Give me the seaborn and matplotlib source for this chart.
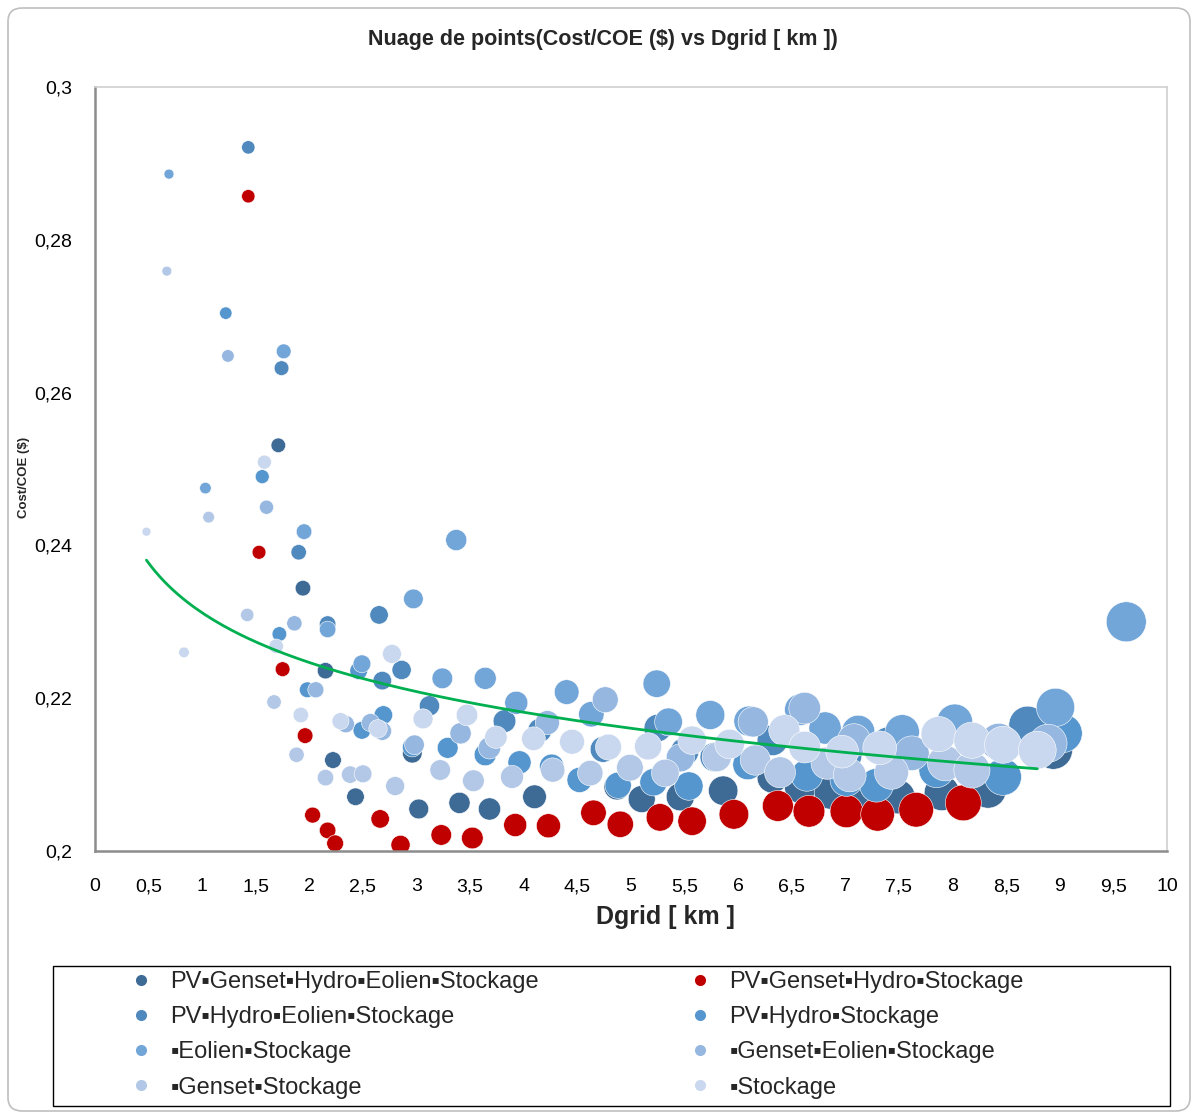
"""
Nuage de points Cost/COE ($) vs Dgrid [km] : bulles par configuration + tendance log.
"""

import matplotlib
matplotlib.use("Agg")
import numpy as np
import pandas as pd
import matplotlib.pyplot as plt
from matplotlib import font_manager
from matplotlib.colors import PowerNorm
from matplotlib.lines import Line2D
from matplotlib.patches import FancyBboxPatch, Rectangle
from matplotlib.ticker import FuncFormatter, MultipleLocator
import seaborn as sns

# ---- données ----
names = [
    "PV▪Genset▪Hydro▪Eolien▪Stockage",
    "PV▪Genset▪Hydro▪Stockage",
    "PV▪Hydro▪Eolien▪Stockage",
    "PV▪Hydro▪Stockage",
    "▪Eolien▪Stockage",
    "▪Genset▪Eolien▪Stockage",
    "▪Genset▪Stockage",
    "▪Stockage",
]
colors = ["#3E6A96", "#C00000", "#4F89BD", "#5596CE",
          "#72A5D8", "#96B7E0", "#B2C8E6", "#C9D8EE"]

s1_x = [1.71, 1.94, 2.15, 2.22, 2.43, 2.96, 3.02, 3.40, 3.68, 4.10, 4.87, 5.10,
        5.46, 5.86, 6.32, 6.58, 6.86, 7.20, 7.49, 7.90, 8.33, 8.94]
s1_y = [0.2531, 0.2344, 0.2236, 0.2119, 0.2071, 0.2128, 0.2055, 0.2063, 0.2055, 0.2071, 0.2084, 0.2068,
        0.2071, 0.2079, 0.2096, 0.2083, 0.2076, 0.2073, 0.2071, 0.2076, 0.2080, 0.2132]

s2_x = [1.43, 1.53, 1.75, 1.96, 2.03, 2.17, 2.24, 2.66, 2.85, 3.23, 3.52, 3.92,
        4.23, 4.65, 4.90, 5.27, 5.57, 5.96, 6.37, 6.66, 7.01, 7.30, 7.66, 8.10]
s2_y = [0.2857, 0.2391, 0.2238, 0.2151, 0.2047, 0.2027, 0.2010, 0.2042, 0.2008, 0.2021, 0.2017, 0.2034,
        0.2033, 0.2050, 0.2035, 0.2044, 0.2039, 0.2048, 0.2059, 0.2052, 0.2052, 0.2048, 0.2054, 0.2063]

s3_x = [1.43, 1.74, 1.90, 2.17, 2.65, 2.68, 2.86, 3.12, 3.82, 4.15, 4.74, 5.25,
        5.50, 5.78, 6.32, 7.00, 7.40, 8.70]
s3_y = [0.2921, 0.2632, 0.2391, 0.2297, 0.2309, 0.2223, 0.2237, 0.2190, 0.2170, 0.2158, 0.2133, 0.2161,
        0.2130, 0.2123, 0.2145, 0.2125, 0.2140, 0.2165]

s4_x = [1.22, 1.56, 1.72, 1.98, 2.46, 2.49, 2.69, 2.96, 3.29, 3.64, 3.96, 4.26,
        4.52, 4.88, 5.21, 5.54, 6.09, 6.64, 7.01, 7.29, 7.85, 8.47, 9.03]
s4_y = [0.2704, 0.2490, 0.2284, 0.2211, 0.2236, 0.2158, 0.2178, 0.2136, 0.2135, 0.2126, 0.2116, 0.2111,
        0.2093, 0.2086, 0.2090, 0.2085, 0.2113, 0.2099, 0.2093, 0.2086, 0.2106, 0.2097, 0.2154]

s5_x = [0.69, 1.03, 1.76, 1.95, 2.17, 2.49, 2.97, 3.24, 3.37, 3.64, 3.93, 4.40,
        4.63, 5.24, 5.35, 5.74, 6.10, 6.58, 6.81, 7.12, 7.53, 8.02, 8.96, 9.62]
s5_y = [0.2886, 0.2475, 0.2654, 0.2418, 0.2290, 0.2245, 0.2330, 0.2226, 0.2407, 0.2226, 0.2194, 0.2208,
        0.2179, 0.2219, 0.2169, 0.2178, 0.2170, 0.2185, 0.2161, 0.2156, 0.2156, 0.2169, 0.2188, 0.2300]

s6_x = [1.24, 1.60, 1.86, 2.06, 2.34, 2.57, 2.68, 2.98, 3.41, 3.68, 4.22, 4.76,
        5.46, 6.14, 6.62, 7.08, 7.62, 8.43, 8.89]
s6_y = [0.2648, 0.2450, 0.2298, 0.2211, 0.2166, 0.2168, 0.2157, 0.2139, 0.2154, 0.2135, 0.2168, 0.2198,
        0.2122, 0.2169, 0.2187, 0.2145, 0.2128, 0.2143, 0.2141]

s7_x = [0.67, 1.06, 1.42, 1.67, 1.88, 2.15, 2.38, 2.50, 2.80, 3.22, 3.53, 3.89,
        4.27, 4.62, 4.99, 5.32, 5.80, 6.16, 6.39, 6.83, 7.04, 7.43, 7.93, 8.18]
s7_y = [0.2759, 0.2437, 0.2309, 0.2195, 0.2126, 0.2096, 0.2100, 0.2101, 0.2085, 0.2106, 0.2092, 0.2097,
        0.2106, 0.2102, 0.2109, 0.2102, 0.2123, 0.2119, 0.2103, 0.2115, 0.2099, 0.2103, 0.2115, 0.2106]

s8_x = [0.48, 0.83, 1.58, 1.69, 1.92, 2.29, 2.64, 2.77, 3.06, 3.47, 3.74, 4.09,
        4.45, 4.79, 5.16, 5.57, 5.92, 6.43, 6.62, 6.97, 7.32, 7.87, 8.18, 8.47, 8.79]
s8_y = [0.2418, 0.2260, 0.2509, 0.2268, 0.2178, 0.2170, 0.2160, 0.2258, 0.2173, 0.2178, 0.2149, 0.2147,
        0.2143, 0.2136, 0.2137, 0.2145, 0.2140, 0.2158, 0.2136, 0.2130, 0.2135, 0.2153, 0.2145, 0.2139, 0.2132]

series_x = [s1_x, s2_x, s3_x, s4_x, s5_x, s6_x, s7_x, s8_x]
series_y = [s1_y, s2_y, s3_y, s4_y, s5_y, s6_y, s7_y, s8_y]

# ---- style ----
sns.set_style("white")
installed = {f.name for f in font_manager.fontManager.ttflist}
narrow = "Liberation Sans Narrow" if "Liberation Sans Narrow" in installed else "Liberation Sans"
plt.rcParams["font.family"] = ["Liberation Sans", "DejaVu Sans"]

W, H = 1196, 1117
fig = plt.figure(figsize=(W / 100, H / 100), dpi=100)
ax = fig.add_axes([95 / W, 1 - 851 / H, (1167 - 95) / W, (851 - 87) / H])

frames = []
for name, xs, ys in zip(names, series_x, series_y):
    frames.append(pd.DataFrame({"Dgrid": xs, "Cost": ys, "serie": name}))
df = pd.concat(frames, ignore_index=True)  # ordre = ordre de dessin (Excel)

palette = dict(zip(names, colors))
sns.scatterplot(
    data=df, x="Dgrid", y="Cost", hue="serie", palette=palette,
    size="Dgrid", sizes=(25, 830), size_norm=PowerNorm(1.3, vmin=0, vmax=max(s5_x)),
    edgecolor="white", linewidth=0.4, alpha=1, legend=False, ax=ax, zorder=2,
)

# courbe de tendance logarithmique (sur la dernière série)
b, a = np.polyfit(np.log(s8_x), s8_y, 1)
xt = np.linspace(min(s8_x), max(s8_x), 200)
sns.lineplot(x=xt, y=a + b * np.log(xt), color="#00B050", lw=2, ax=ax, zorder=3)

# ---- axes ----
ax.set_xlim(0, 10)
ax.set_ylim(0.2, 0.3)
ax.xaxis.set_major_locator(MultipleLocator(0.5))
ax.yaxis.set_major_locator(MultipleLocator(0.02))
comma = FuncFormatter(lambda v, p: f"{v:g}".replace(".", ","))
ax.xaxis.set_major_formatter(comma)
ax.yaxis.set_major_formatter(comma)
ax.tick_params(axis="both", direction="inout", length=13, width=1.3,
               color="#8C8C8C", labelsize=14, labelcolor="black")
ax.tick_params(axis="x", pad=13)
ax.tick_params(axis="y", pad=10)
for side in ["left", "bottom"]:
    ax.spines[side].set_color("#8C8C8C")
    ax.spines[side].set_linewidth(1.8)
for side in ["top", "right"]:
    ax.spines[side].set_color("#D0D0D0")
    ax.spines[side].set_linewidth(1.2)

ax.set_xlabel("Dgrid [ km ]", fontsize=18, fontweight="bold")
ax.xaxis.set_label_coords((665 - 95) / 1072, (851 - 905) / 764)
ax.set_ylabel("Cost/COE ($)", fontsize=9.5, fontweight="bold")
ax.yaxis.set_label_coords((30 - 95) / 1072, (851 - 477) / 764)

fig.text(603 / W, 1 - 40 / H, "Nuage de points(Cost/COE ($) vs Dgrid [ km ])",
         ha="center", va="center", fontsize=15.5, fontweight="bold", family=[narrow, "DejaVu Sans"])

# ---- légende (ordre Excel, 2 colonnes) ----
fig.patches.append(Rectangle((53 / W, 1 - 1106 / H), (1170 - 53) / W, (1106 - 966) / H,
                             transform=fig.transFigure, fill=False, edgecolor="black", lw=1))


def make_handles(idx):
    return [Line2D([], [], ls="", marker="o", markersize=8, markeredgewidth=0,
                   markerfacecolor=colors[i]) for i in idx]


leg_kw = dict(frameon=False, fontsize=17, handlelength=1.0, handletextpad=0.75,
              labelspacing=0.56, borderpad=0, borderaxespad=0, loc="upper left")
left_idx, right_idx = [0, 2, 4, 6], [1, 3, 5, 7]
leg1 = fig.legend(make_handles(left_idx), [names[i] for i in left_idx],
                  bbox_to_anchor=(129 / W, 1 - 971 / H), **leg_kw)
leg2 = fig.legend(make_handles(right_idx), [names[i] for i in right_idx],
                  bbox_to_anchor=(688 / W, 1 - 971 / H), **leg_kw)

# cadre arrondi du graphique
fig.patches.append(FancyBboxPatch((8 / W, 6 / H), (W - 14) / W, (H - 14) / H,
                                  boxstyle="round,pad=0,rounding_size=0.012",
                                  transform=fig.transFigure, fill=False,
                                  edgecolor="#BFBFBF", lw=1.2))

fig.savefig("out.png", dpi=100)
